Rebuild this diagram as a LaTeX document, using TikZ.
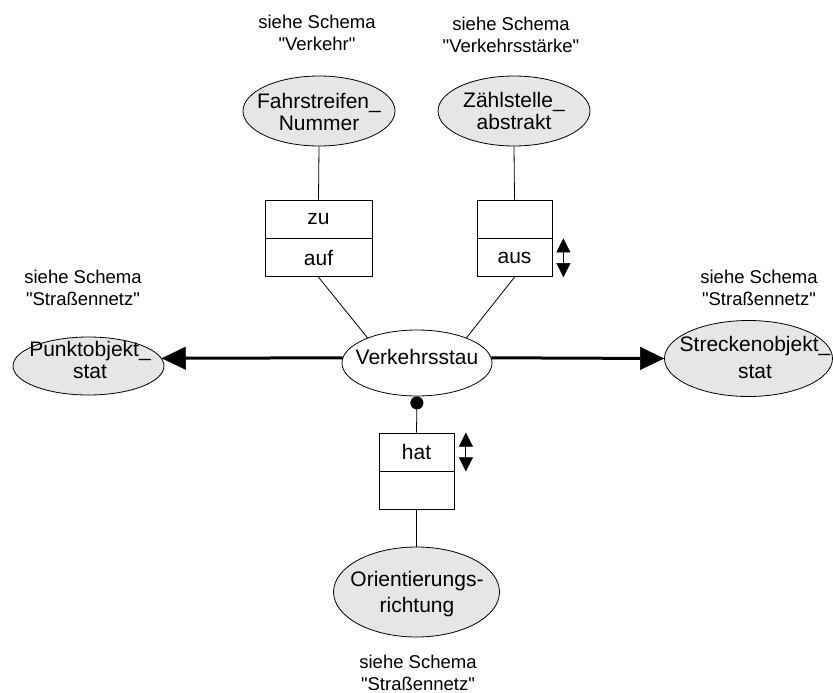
\documentclass[tikz,border=0pt]{standalone}
\usepackage{fontspec}
\newfontfamily\arial{Liberation Sans}
\usetikzlibrary{arrows.meta,calc,shapes.geometric}
\definecolor{entfill}{HTML}{E6E6E6}
\begin{document}
\begin{tikzpicture}[x=1pt,y=-1pt,
  ent/.style={ellipse, draw, fill=entfill, line width=0.8pt, inner sep=0pt},
  etext/.style={font=\arial\fontsize{21}{22.5}\selectfont, align=center, inner sep=0pt},
  note/.style={font=\arial\fontsize{18.5}{21.6}\selectfont, align=center, inner sep=0pt},
  half/.style={draw, line width=0.8pt, minimum height=38pt, inner sep=0pt, font=\arial\fontsize{21}{22.5}\selectfont},
  conn/.style={line width=0.8pt},
  bigarrow/.style={line width=3pt, -{Triangle[length=24pt,width=23pt,line width=0.5pt]}},
  updown/.style={line width=1pt, {Triangle[length=14pt,width=14pt,line width=0.5pt]}-{Triangle[length=14pt,width=14pt,line width=0.5pt]}}
]
\useasboundingbox (0,0) rectangle (833,693);

% entities
\node[ent, minimum width=152pt, minimum height=70pt] (fahr) at (319,111) {};
\node[etext] (fahrT) at (319,112) {Fahrstreifen\_\\Nummer};
\node[ent, minimum width=152pt, minimum height=70pt] (zaehl) at (514,111) {};
\node[etext] (zaehlT) at (514,111) {Zählstelle\_\\abstrakt};
\node[ent, fill=white, minimum width=150pt, minimum height=66pt] (vs) at (417,363) {};
\node[etext] (vsT) at (417,357) {Verkehrsstau};
\node[ent, minimum width=151pt, minimum height=58pt] (pkt) at (88.5,366) {};
\node[etext] (pktT) at (90,360) {Punktobjekt\_\\stat};
\node[ent, minimum width=168pt, minimum height=76pt] (strk) at (748.5,358.5) {};
\node[etext, font=\arial\fontsize{21}{27}\selectfont] (strkT) at (755,357) {Streckenobjekt\_\\stat};
\node[ent, minimum width=166pt, minimum height=90pt] (ori) at (416.5,592) {};
\node[etext, font=\arial\fontsize{21}{25.5}\selectfont] (oriT) at (417,594) {Orientierungs-\\richtung};

% relation boxes
\node[half, minimum width=107pt] (zuT) at (318.5,219) {zu};
\node[half, minimum width=107pt, anchor=north] (zuB) at (zuT.south) {auf};
\node[half, minimum width=75pt] (ausT) at (514.5,219) {};
\node[half, minimum width=75pt, anchor=north] (ausB) at (ausT.south) {aus};
\node[half, minimum width=75pt] (hatT) at (416.5,452) {hat};
\node[half, minimum width=75pt, anchor=north] (hatB) at (hatT.south) {};

% notes
\node[note] (n1) at (317,33) {siehe Schema\\"Verkehr"};
\node[note] (n2) at (511,35) {siehe Schema\\"Verkehrsstärke"};
\node[note] (n3) at (83,288) {siehe Schema\\"Straßennetz"};
\node[note] (n4) at (759,288) {siehe Schema\\"Straßennetz"};
\node[note] (n5) at (418,673) {siehe Schema\\"Straßennetz"};

% connectors
\draw[conn] (fahr.south) -- (zuT.north);
\draw[conn] (zaehl.south) -- (ausT.north);
\draw[conn] (zuB.south) -- (vs.153);
\draw[conn] (ausB.south) -- (vs.27);
\draw[bigarrow] (vs.176) -- (pkt.6);
\draw[bigarrow] (vs.4) -- (strk.west);
\draw[conn, {Circle[length=13pt]}-] (vs.south) -- (hatT.north);
\draw[conn] (hatB.south) -- (ori.north);

% reading direction markers
\draw[updown] ($(ausB.north east)+(11,0)$) -- ($(ausB.south east)+(11,0)$);
\draw[updown] ($(hatT.north east)+(11.5,0)$) -- ($(hatT.south east)+(11.5,0)$);
\end{tikzpicture}
\end{document}
